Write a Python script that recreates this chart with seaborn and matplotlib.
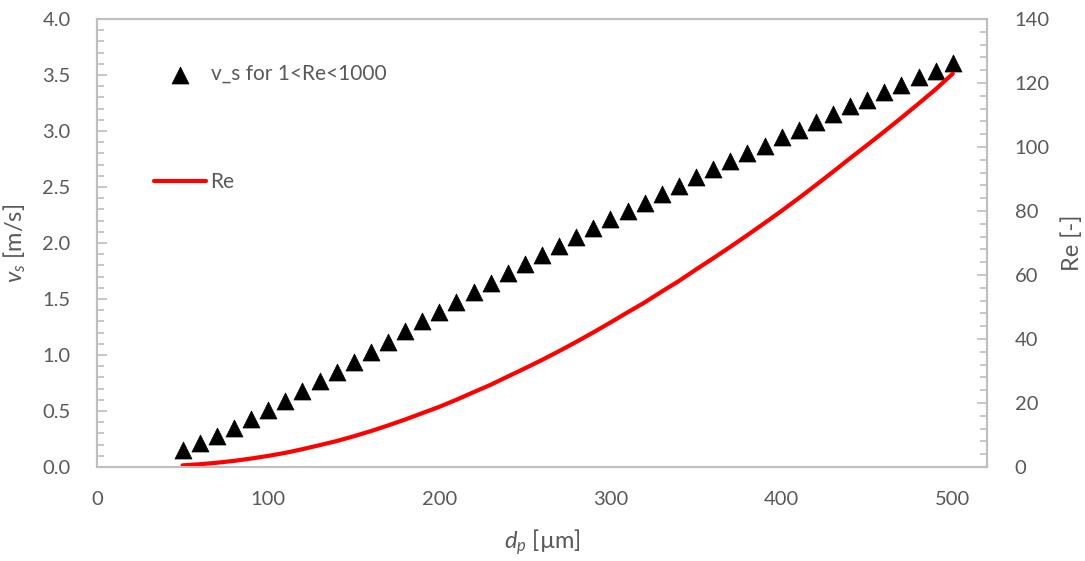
import numpy as np
import pandas as pd
import matplotlib
matplotlib.use("Agg")
import matplotlib.pyplot as plt
import seaborn as sns
from matplotlib.ticker import MultipleLocator, FormatStrFormatter

# ---- data ----
d_p = [50, 60, 70, 80, 90, 100, 110, 120, 130, 140, 150, 160, 170, 180, 190,
       200, 210, 220, 230, 240, 250, 260, 270, 280, 290, 300, 310, 320, 330,
       340, 350, 360, 370, 380, 390, 400, 410, 420, 430, 440, 450, 460, 470,
       480, 490, 500]
v_s = [0.15, 0.21, 0.28, 0.35, 0.43, 0.51, 0.59, 0.68, 0.77, 0.85, 0.94, 1.03,
       1.12, 1.21, 1.30, 1.38, 1.47, 1.56, 1.64, 1.73, 1.81, 1.89, 1.97, 2.05,
       2.13, 2.21, 2.29, 2.36, 2.44, 2.51, 2.59, 2.66, 2.73, 2.80, 2.87, 2.95,
       3.01, 3.08, 3.15, 3.22, 3.28, 3.35, 3.41, 3.48, 3.54, 3.61]
Re = [0.51, 0.86, 1.33, 1.91, 2.64, 3.47, 4.42, 5.56, 6.82, 8.10, 9.60, 11.22,
      12.97, 14.83, 16.82, 18.80, 21.02, 23.37, 25.69, 28.28, 30.82, 33.46,
      36.22, 39.09, 42.07, 45.15, 48.34, 51.43, 54.83, 58.12, 61.73, 65.21,
      68.79, 72.46, 76.22, 80.05, 84.00, 88.09, 92.24, 96.48, 100.62, 104.84,
      109.14, 113.55, 118.03, 122.92]

label_vs = "v_s for 1<Re<1000"
label_re = "Re"
xlabel = r"$d_p$ [µm]"
ylabel_left = r"$v_s$ [m/s]"
ylabel_right = "Re [-]"

df = pd.DataFrame({"d_p": d_p, "v_s": v_s, "Re": Re})

sns.set_theme(style="white")
plt.rcParams["font.family"] = ["Lato", "DejaVu Sans"]
plt.rcParams["mathtext.fontset"] = "custom"
plt.rcParams["mathtext.rm"] = "Lato"
plt.rcParams["mathtext.it"] = "Lato:italic"

TXT = "#595959"
SP = "#bfbfbf"

fig = plt.figure(figsize=(10.85, 5.61), dpi=100)
ax = fig.add_axes([97 / 1085, 1 - 467 / 561, (987 - 97) / 1085, (467 - 19) / 561])
ax2 = ax.twinx()

sns.scatterplot(data=df, x="d_p", y="v_s", ax=ax, marker="^", s=150,
                color="black", edgecolor="black", linewidth=0.5,
                label=label_vs, zorder=3)
sns.lineplot(data=df, x="d_p", y="Re", ax=ax2, color="#ff0000", linewidth=3,
             label=label_re)

ax.set_xlim(0, 520)
ax.set_ylim(0, 4.0)
ax2.set_ylim(0, 140)

ax.xaxis.set_major_locator(MultipleLocator(100))
ax.xaxis.set_minor_locator(MultipleLocator(20))
ax.yaxis.set_major_locator(MultipleLocator(0.5))
ax.yaxis.set_minor_locator(MultipleLocator(0.1))
ax.yaxis.set_major_formatter(FormatStrFormatter("%.1f"))
ax2.yaxis.set_major_locator(MultipleLocator(20))
ax2.yaxis.set_minor_locator(MultipleLocator(4))

for a in (ax, ax2):
    for s in a.spines.values():
        s.set_color(SP)
        s.set_linewidth(1.5)
    a.tick_params(which="both", direction="in", color=SP, width=1.2,
                  labelsize=14.5, labelcolor=TXT)
    a.tick_params(which="major", length=7)
    a.tick_params(which="minor", length=5)

ax.tick_params(axis="x", which="both", pad=17)
ax.tick_params(axis="y", which="both", left=True, right=False, pad=19)
ax2.tick_params(axis="y", which="both", right=True, left=False, pad=20)

ax.set_xlabel(xlabel, fontsize=17, color=TXT, labelpad=14)
ax.set_ylabel(ylabel_left, fontsize=17, color=TXT, labelpad=10)
ax2.set_ylabel(ylabel_right, fontsize=17, color=TXT, labelpad=8)

ax.legend(loc="center left", bbox_to_anchor=(0.06, 0.877), frameon=False,
          fontsize=15, labelcolor=TXT, handletextpad=0.5, borderaxespad=0)
ax2.legend(loc="center left", bbox_to_anchor=(0.055, 0.636), frameon=False,
           fontsize=15, labelcolor=TXT, handlelength=2.5, handletextpad=0.2,
           borderaxespad=0)

fig.savefig("out.png", dpi=100)
